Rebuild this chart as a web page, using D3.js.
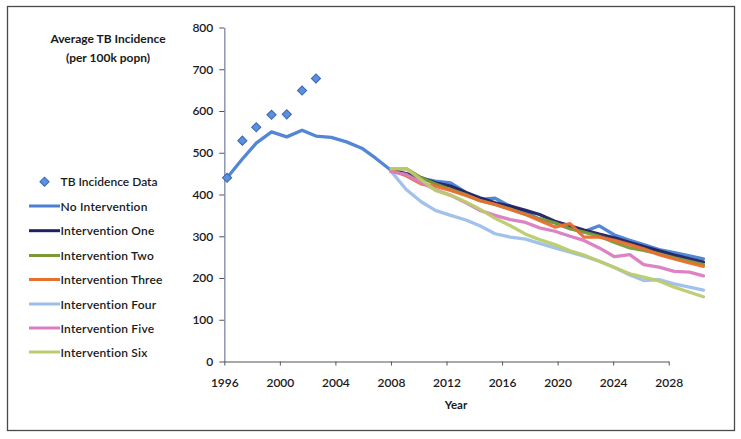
<!DOCTYPE html>
<html>
<head>
<meta charset="utf-8">
<script src="https://cdn.jsdelivr.net/npm/d3@7"></script>
<style>
  html, body { margin: 0; padding: 0; background: #fff; }
  svg { display: block; font-family: Lato, "Open Sans", sans-serif; }
</style>
</head>
<body>
<svg id="chart" width="741" height="439"></svg>
<script>
// Model time steps (decimal years) shared by all series
const years = [1996.2, 1997.3, 1998.3, 1999.4, 2000.5, 2001.6, 2002.6, 2003.7, 2004.8, 2005.9,
  2006.9, 2008.0, 2009.1, 2010.2, 2011.2, 2012.3, 2013.4, 2014.4, 2015.5, 2016.6, 2017.7,
  2018.7, 2019.8, 2020.9, 2021.9, 2023.0, 2024.1, 2025.2, 2026.2, 2027.3, 2028.4, 2029.5, 2030.5];

// Observed TB incidence (first seven time steps)
const dataYears = [1996.2, 1997.3, 1998.3, 1999.4, 2000.5, 2001.6, 2002.6];
const dataValues = [440, 529, 561, 591, 592, 649, 678];

// Baseline model run, full period
const noIntervention = [440, 485, 523, 550, 538, 554, 540, 537, 526, 511, 487, 458, 448, 438, 432,
  428, 405, 388, 391, 372, 358, 340, 333, 318, 311, 325, 303, 290, 280, 268, 261, 253, 246];

// Intervention runs start at 2008 (index 11 of years)
const interventionStart = 11;
const interventionOne   = [458, 450, 440, 428, 420, 405, 392, 380, 372, 362, 352, 336, 325, 315, 305, 296, 285, 275, 265, 255, 246, 238];
const interventionTwo   = [460, 462, 440, 425, 412, 400, 385, 376, 365, 352, 342, 332, 318, 310, 300, 285, 272, 266, 258, 248, 240, 232];
const interventionThree = [458, 445, 425, 420, 410, 398, 386, 376, 364, 352, 338, 322, 330, 298, 298, 290, 280, 270, 256, 246, 236, 228];
const interventionFour  = [456, 412, 382, 362, 350, 339, 325, 306, 298, 293, 283, 272, 262, 252, 240, 225, 207, 194, 196, 186, 178, 171];
const interventionFive  = [455, 448, 428, 412, 398, 380, 362, 350, 340, 333, 320, 312, 300, 290, 272, 251, 256, 232, 226, 216, 214, 205];
const interventionSix   = [462, 462, 435, 410, 398, 382, 365, 343, 325, 305, 292, 280, 265, 255, 240, 225, 210, 202, 193, 178, 166, 155];

const seriesNames = ["No Intervention", "Intervention One", "Intervention Two", "Intervention Three",
  "Intervention Four", "Intervention Five", "Intervention Six"];
const seriesColors = ["#4a7fd2", "#1f2160", "#7a9a3a", "#e8702e", "#9cbfea", "#d97cc0", "#bccb6c"];

const yTicks = [0, 100, 200, 300, 400, 500, 600, 700, 800];
const xTicks = [1996, 2000, 2004, 2008, 2012, 2016, 2020, 2024, 2028];

const svg = d3.select("#chart");
const ink = "#1a1a1a";

// outer frame
svg.append("rect")
  .attr("x", 7.5).attr("y", 6.5).attr("width", 727).attr("height", 424)
  .attr("fill", "#fff").attr("stroke", "#4a4a4a").attr("stroke-width", 1.3);

const x = d3.scaleLinear().domain([1996, 2028]).range([224.3, 668.7]);
const y = d3.scaleLinear().domain([0, 800]).range([361.5, 27.5]);

// y axis
const yAxis = svg.append("g").attr("transform", `translate(${x(1996)},0)`)
  .call(d3.axisLeft(y).tickValues(yTicks).tickSize(5).tickSizeOuter(0).tickPadding(6));
yAxis.select(".domain").attr("stroke", "#7d88a6").attr("stroke-width", 1.3);
yAxis.selectAll(".tick line").attr("stroke", "#555");
yAxis.selectAll(".tick text").attr("font-size", 12).attr("font-weight", 600).attr("fill", ink)
  .attr("font-family", "Lato, sans-serif");

// x axis
const xAxis = svg.append("g").attr("transform", `translate(0,${y(0)})`)
  .call(d3.axisBottom(x).tickValues(xTicks).tickFormat(d3.format("d")).tickSize(4).tickSizeOuter(0).tickPadding(13));
xAxis.select(".domain").attr("stroke", "#555").attr("stroke-width", 1.2);
xAxis.selectAll(".tick line").attr("stroke", "#555");
xAxis.selectAll(".tick text").attr("font-size", 12).attr("font-weight", 600).attr("fill", ink)
  .attr("font-family", "Lato, sans-serif");

svg.append("text").attr("x", 456).attr("y", 404).attr("text-anchor", "middle")
  .attr("dominant-baseline", "central").attr("font-size", 11.5).attr("font-weight", "bold")
  .attr("fill", ink).text("Year");

// axis title (top left)
svg.append("text").attr("x", 108).attr("y", 38.5).attr("text-anchor", "middle")
  .attr("dominant-baseline", "central").attr("font-size", 12).attr("font-weight", "bold")
  .attr("fill", ink).text("Average TB Incidence");
svg.append("text").attr("x", 108).attr("y", 57).attr("text-anchor", "middle")
  .attr("dominant-baseline", "central").attr("font-size", 12).attr("font-weight", "bold")
  .attr("fill", ink).text("(per 100k popn)");

// series lines
const line = d3.line().x(d => x(d[0])).y(d => y(d[1]));
const interventions = [interventionOne, interventionTwo, interventionThree,
  interventionFour, interventionFive, interventionSix];
const allSeries = [d3.zip(years, noIntervention)].concat(
  interventions.map(vals => d3.zip(years.slice(interventionStart), vals)));

svg.append("g").selectAll("path").data(allSeries).join("path")
  .attr("d", line)
  .attr("fill", "none")
  .attr("stroke", (d, i) => seriesColors[i])
  .attr("stroke-width", 3.3)
  .attr("stroke-linejoin", "round")
  .attr("stroke-linecap", "round")
  .attr("opacity", 0.95);

// observed data markers
const diamond = d3.symbol().type(d3.symbolSquare).size(42);
svg.append("g").selectAll("path").data(d3.zip(dataYears, dataValues)).join("path")
  .attr("d", diamond)
  .attr("transform", d => `translate(${x(d[0])},${y(d[1])}) rotate(45)`)
  .attr("fill", "#5b8fe0").attr("stroke", "#3a66b0").attr("stroke-width", 1);

// legend
const legend = svg.append("g");
legend.append("path").attr("d", diamond)
  .attr("transform", "translate(44.5,181.7) rotate(45)")
  .attr("fill", "#5b8fe0").attr("stroke", "#3a66b0").attr("stroke-width", 1);
legend.append("text").attr("x", 60.5).attr("y", 181.7).attr("dominant-baseline", "central")
  .attr("font-size", 12).attr("font-weight", 600).attr("fill", ink).text("TB Incidence Data");

const legendY = [206, 230.7, 255.5, 279.5, 304, 328, 352];
seriesNames.forEach((name, i) => {
  legend.append("line").attr("x1", 29).attr("x2", 60).attr("y1", legendY[i]).attr("y2", legendY[i])
    .attr("stroke", seriesColors[i]).attr("stroke-width", 3);
  legend.append("text").attr("x", 60.5).attr("y", legendY[i]).attr("dominant-baseline", "central")
    .attr("font-size", 12).attr("font-weight", 600).attr("letter-spacing", 0.2)
    .attr("fill", ink).text(name);
});
</script>
</body>
</html>
